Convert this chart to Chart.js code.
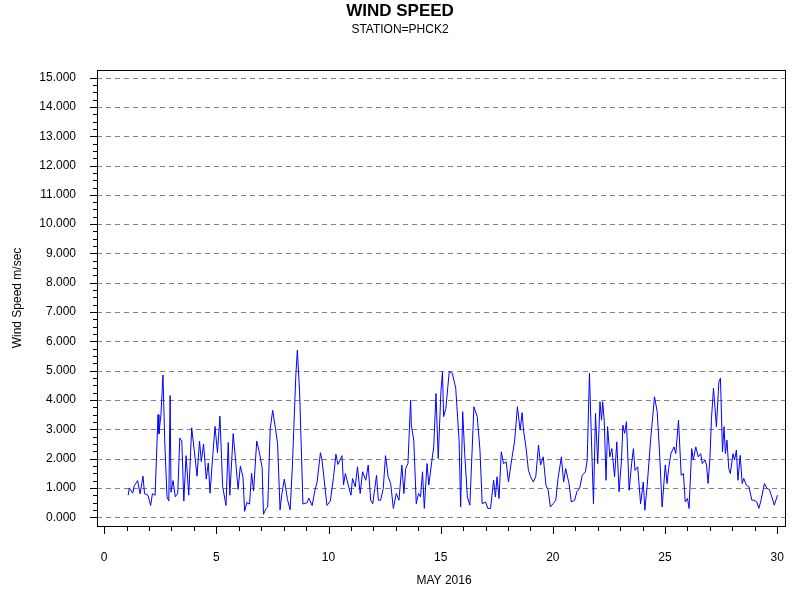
<!DOCTYPE html>
<html><head><meta charset="utf-8">
<script src="https://cdn.jsdelivr.net/npm/chart.js@4"></script>
<style>html,body{margin:0;padding:0;background:#fff}#wrap{width:800px;height:600px}</style>
</head><body><div id="wrap"><canvas id="c" width="800" height="600"></canvas></div>
<script>
const days = [1.07,1.12,1.27,1.34,1.49,1.6,1.73,1.8,1.95,2.07,2.15,2.27,2.4,2.44,2.53,2.62,2.7,2.8,2.88,2.94,2.98,3.07,3.17,3.28,3.37,3.46,3.55,3.65,3.77,3.9,4.02,4.14,4.25,4.33,4.43,4.55,4.64,4.72,4.84,4.94,5.05,5.16,5.28,5.43,5.53,5.6,5.75,5.85,5.97,6.07,6.19,6.26,6.36,6.48,6.57,6.66,6.8,6.92,7.04,7.1,7.22,7.29,7.4,7.51,7.63,7.73,7.84,7.92,8.03,8.17,8.29,8.39,8.54,8.61,8.71,8.86,9.05,9.12,9.27,9.39,9.49,9.64,9.71,9.83,9.93,10.08,10.22,10.33,10.42,
10.6,10.67,10.75,10.9,11.0,11.07,11.19,11.29,11.41,11.52,11.66,11.77,11.88,11.97,12.14,12.22,12.32,12.44,12.54,12.66,12.77,12.89,13.02,13.14,13.27,13.36,13.44,13.54,13.66,13.69,13.8,13.91,14.01,14.1,14.19,14.27,14.39,14.47,14.6,14.69,14.79,14.89,15.01,15.08,15.13,15.23,15.38,15.52,15.67,15.82,15.89,15.98,16.07,16.19,16.3,16.48,16.63,16.75,16.85,17.0,17.1,17.22,17.36,17.44,17.51,17.6,17.7,17.8,17.92,18.02,18.17,18.29,18.42,18.54,18.63,18.69,18.8,18.91,19.01,19.13,19.24,19.36,19.45,19.57,19.69,19.79,19.89,20.01,20.13,20.23,20.38,
20.48,20.57,20.72,20.82,20.97,21.07,21.19,21.31,21.45,21.53,21.63,21.72,21.81,21.9,22.0,22.1,22.17,22.22,22.29,22.37,22.44,22.54,22.63,22.75,22.85,22.95,23.06,23.12,23.2,23.28,23.4,23.51,23.59,23.66,23.78,23.91,24.03,24.1,24.2,24.35,24.45,24.53,24.65,24.75,24.87,25.01,25.09,25.16,25.26,25.4,25.48,25.6,25.72,25.82,25.9,26.0,26.07,26.19,26.26,26.37,26.48,26.59,26.66,26.78,26.85,26.92,27.0,27.07,27.16,27.29,27.4,27.47,27.56,27.63,27.69,27.76,27.84,27.91,28.03,28.1,28.18,28.25,28.35,28.44,28.51,28.62,28.74,28.87,28.96,29.09,29.18,29.28,29.43,29.54,29.65,29.76,29.87,30.01];
const speeds = [0.75,1.0,0.82,1.07,1.25,0.8,1.4,0.8,0.75,0.4,0.8,0.75,3.5,2.85,3.5,4.85,2.6,0.7,0.55,4.15,0.85,1.25,0.7,0.82,2.7,2.6,0.55,2.1,0.75,3.05,2.25,1.4,2.6,1.9,2.5,1.3,1.85,0.82,2.1,3.1,2.2,3.45,1.05,0.4,2.55,0.75,2.85,2.0,0.95,1.75,1.35,0.2,0.5,0.45,1.5,0.9,2.6,2.2,1.7,0.1,0.3,0.35,3.0,3.65,3.05,2.5,0.25,0.8,1.3,0.6,0.25,1.75,4.8,5.7,4.3,0.45,0.5,0.65,0.4,0.9,1.2,2.2,1.95,1.1,0.4,0.55,1.35,2.15,1.8,
2.1,1.1,1.49,1.04,0.75,1.32,1.04,1.72,0.81,1.55,1.26,1.78,0.58,0.46,1.43,0.58,0.58,0.98,2.1,1.38,1.15,0.3,0.81,0.58,1.78,0.81,1.66,1.83,4.0,3.14,2.63,0.46,0.81,0.69,1.55,0.3,1.83,1.1,1.89,2.4,4.22,2.0,4.28,4.97,3.43,3.71,4.97,4.91,4.4,2.63,0.35,3.6,2.17,0.69,0.41,3.77,3.43,2.29,0.46,0.52,0.3,0.3,1.26,0.69,1.38,0.64,2.23,1.83,1.89,1.2,2.0,2.57,3.77,2.97,3.57,2.97,2.4,1.6,1.38,1.2,1.4,2.46,1.78,2.06,1.1,0.92,0.35,0.46,0.58,1.32,2.06,
1.2,1.66,1.15,0.52,0.58,0.87,0.98,1.43,1.55,1.95,4.91,2.63,0.46,3.54,1.83,3.94,3.31,3.94,3.31,1.26,3.09,2.06,2.34,1.38,2.57,0.87,1.95,3.14,2.86,3.26,0.92,1.83,2.34,1.6,1.72,0.46,1.2,0.24,1.04,2.57,3.43,4.11,3.6,2.29,0.35,1.78,1.15,1.66,2.17,2.4,2.17,3.31,1.43,1.49,0.52,0.64,0.3,2.34,1.95,2.4,2.06,2.17,1.83,1.95,1.78,1.15,2.0,3.37,4.4,3.09,4.62,4.74,2.23,3.09,2.17,2.63,1.66,1.49,2.17,1.95,2.29,1.26,2.11,1.15,1.32,1.1,1.04,0.58,0.58,0.52,0.3,0.58,1.15,0.98,0.95,0.69,0.41,0.75];
const yTicks = [0,1,2,3,4,5,6,7,8,9,10,11,12,13,14,15];
const xTicks = [0,5,10,15,20,25,30];

const points = days.map((d,i)=>({x:d,y:speeds[i]}));
const FONT = "Arial, 'Liberation Sans', sans-serif";

const deco = {
  id:'deco',
  beforeDatasetsDraw(chart){
    const {ctx, chartArea:a, scales:{x,y}} = chart;
    ctx.save();
    ctx.strokeStyle='#808080'; ctx.lineWidth=1; ctx.setLineDash([5,4]);
    yTicks.forEach(v=>{const py=Math.round(y.getPixelForValue(v))+0.5;
      ctx.beginPath();ctx.moveTo(a.left,py);ctx.lineTo(a.right,py);ctx.stroke();});
    ctx.restore();
  },
  afterDraw(chart){
    const {ctx, chartArea:a, scales:{x,y}} = chart;
    ctx.save();
    ctx.strokeStyle='#000'; ctx.lineWidth=1;
    ctx.strokeRect(Math.round(a.left)+0.5,Math.round(a.top)+0.5,Math.round(a.right-a.left),Math.round(a.bottom-a.top));
    ctx.beginPath();
    for(let v=0; v<=15.001; v+=0.25){
      const py=Math.round(y.getPixelForValue(v))+0.5;
      const major=Math.abs(v-Math.round(v))<1e-6;
      ctx.moveTo(a.left,py);ctx.lineTo(a.left-(major?7:4),py);
    }
    for(let d=0; d<=30; d++){
      const px=Math.round(x.getPixelForValue(d))+0.5;
      const major=d%5===0;
      ctx.moveTo(px,a.bottom);ctx.lineTo(px,a.bottom+(major?8:5));
    }
    ctx.stroke();
    ctx.fillStyle='#000'; ctx.textAlign='center'; ctx.textBaseline='middle';
    ctx.font="bold 17px "+FONT; ctx.fillText('WIND SPEED',400,11);
    ctx.font="12px "+FONT; ctx.fillText('STATION=PHCK2',400,30);
    ctx.fillText('MAY 2016',444,581);
    ctx.translate(18,298); ctx.rotate(-Math.PI/2); ctx.fillText('Wind Speed m/sec',0,0);
    ctx.restore();
  }
};

new Chart(document.getElementById('c'),{
  type:'line',
  data:{datasets:[{data:points,borderColor:'#0000ff',borderWidth:1,pointRadius:0,tension:0,fill:false}]},
  options:{
    responsive:false,animation:false,
    layout:{padding:{left:0,top:70,right:10,bottom:0}},
    plugins:{legend:{display:false},tooltip:{enabled:false}},
    scales:{
      x:{type:'linear',min:-0.32,max:30.34,
        afterBuildTicks(s){s.ticks=xTicks.map(v=>({value:v}));},
        afterFit(s){s.height=74;},
        grid:{display:false},border:{display:false},
        ticks:{padding:16,color:'#000',font:{family:FONT,size:12},autoSkip:false,maxRotation:0,callback:v=>String(v)}},
      y:{type:'linear',min:-0.3,max:15.26,
        afterBuildTicks(s){s.ticks=yTicks.map(v=>({value:v}));},
        afterFit(s){s.width=97;},
        grid:{display:false},border:{display:false},
        ticks:{padding:13,color:'#000',font:{family:FONT,size:12},autoSkip:false,callback:v=>v.toFixed(3)}}
    }
  },
  plugins:[deco]
});
</script></body></html>
